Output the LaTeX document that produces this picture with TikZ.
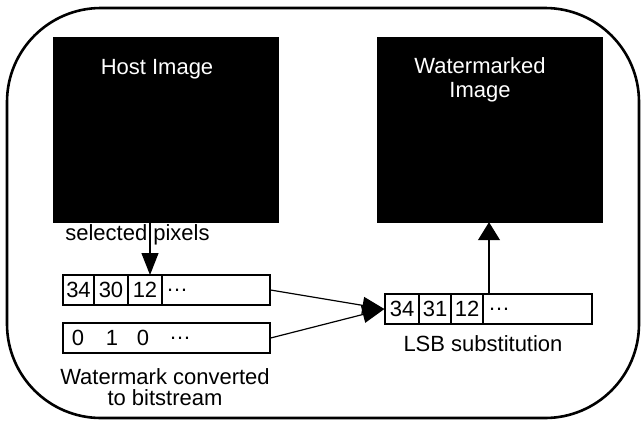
\documentclass[tikz,border=0pt]{standalone}
\usepackage{fontspec}
\setmainfont{Liberation Sans}
\usetikzlibrary{arrows.meta}
\begin{document}
\begin{tikzpicture}[x=1pt,y=-1pt,
  every node/.style={font=\fontsize{22}{24}\selectfont, inner sep=0pt},
  imgbox/.style={draw=black, fill=black, minimum width=225pt, minimum height=185pt},
  imgtext/.style={text=white, align=center},
  cell/.style={draw=black, line width=1.2pt, minimum height=30pt},
  lbl/.style={align=center},
  arr/.style={line width=1.2pt, -{Triangle[width=17pt,length=22pt]}},
  arrup/.style={line width=1.2pt, -{Triangle[width=22pt,length=18pt]}},
  link/.style={line width=1.2pt, -{Triangle[width=17pt,length=22pt]}}
]
\useasboundingbox (0,0) rectangle (642,424);

% outer frame
\draw[line width=2.6pt, rounded corners=94pt] (7,8) rectangle (639,418);

% images
\node[imgbox] (host) at (165.5,129.5) {};
\node[imgtext] (hostlbl) at (157,69) {Host Image};
\node[imgbox] (wm) at (489.5,129.5) {};
\node[imgtext, font=\fontsize{22}{24}\selectfont] (wmlbl) at (480,80) {Watermarked\\Image};

% selected pixels of the host image
\node[lbl] (sellbl) at (137.5,235) {selected pixels};
\node[cell, minimum width=31pt] (p1) at (78.5,290) {34};
\node[cell, minimum width=34pt] (p2) at (111,290) {30};
\node[cell, minimum width=34pt] (p3) at (145,290) {12};
\node[cell, minimum width=108pt, text width=100pt] (p4) at (216,290) {\hspace*{0pt}\dots};

% watermark bits
\node[cell, minimum width=207pt] (bits) at (166.5,338) {};
\node (b1) at (78,338) {0};
\node (b2) at (112,338) {1};
\node (b3) at (143,338) {0};
\node (b4) at (180,338) {\dots};
\node[lbl, font=\fontsize{22}{21}\selectfont] (bitslbl) at (165,387) {Watermark converted\\to bitstream};

% substituted pixels
\node[cell, minimum width=34pt] (s1) at (402,309) {34};
\node[cell, minimum width=32pt] (s2) at (435,309) {31};
\node[cell, minimum width=32pt] (s3) at (467,309) {12};
\node[cell, minimum width=109pt, text width=99pt] (s4) at (537.5,309) {\hspace*{0pt}\dots};
\node[lbl] (lsblbl) at (483,344) {LSB substitution};

% connectors
\coordinate (selpt) at (150,275);
\coordinate (uppt) at (489,294);
\draw[arr] (host.south -| selpt) -- (selpt);
\draw[link] (p4.east) -- (s1.west);
\draw[link] (bits.east) -- (s1.west);
\draw[arrup] (uppt) -- (wm.south -| uppt);
\end{tikzpicture}
\end{document}
